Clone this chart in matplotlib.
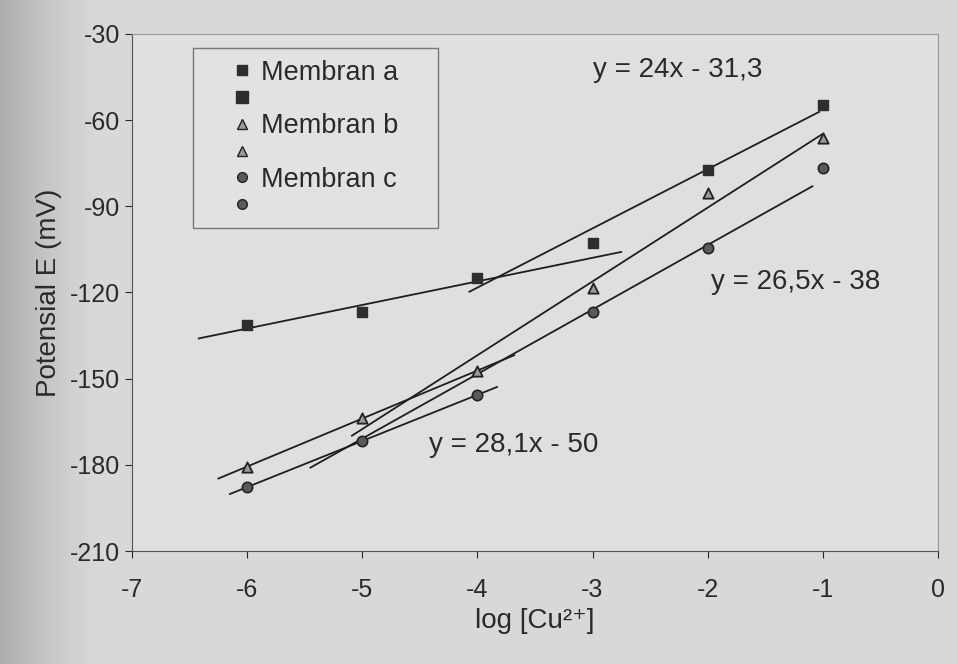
import numpy as np
import matplotlib
matplotlib.use("Agg")
import matplotlib.pyplot as plt
from matplotlib.lines import Line2D
from matplotlib.patches import Rectangle

plt.rcParams['font.family'] = ['Liberation Sans', 'DejaVu Sans']
plt.rcParams['axes.unicode_minus'] = False

# data
log_cu = [-6, -5, -4, -3, -2, -1]
membran_a = [-131.3, -126.8, -114.9, -102.7, -77.3, -54.7]
membran_b = [-180.7, -163.6, -147.3, -118.4, -85.3, -66.2]
membran_c = [-187.7, -171.7, -155.6, -126.8, -104.5, -76.6]

# trendlines: (series, indices used for fit, x start, x end)
trend_a_low = (membran_a, [0, 1, 2], -6.42, -2.75)
trend_a_high = (membran_a, [2, 3, 4, 5], -4.07, -1.03)
trend_b_low = (membran_b, [0, 1, 2], -6.25, -3.68)
trend_b_high = (membran_b, [1, 2, 3, 4, 5], -5.09, -1.0)
trend_c_low = (membran_c, [0, 1, 2], -6.15, -3.83)
trend_c_high = (membran_c, [0, 1, 2, 3, 4, 5], -5.45, -1.09)

equations = ["y = 24x - 31,3", "y = 26,5x - 38", "y = 28,1x - 50"]
eq_pos = [(-3.0, -42.5), (-1.97, -116.5), (-4.42, -173.0)]

fig = plt.figure(figsize=(9.57, 6.64), dpi=100, facecolor='#d8d8d8')
ax = fig.add_axes([0.138, 0.170, 0.842, 0.779])
ax.set_facecolor('#dfdfdf')

# scanner shadow on the left edge (dark fading to transparent)
shade = np.zeros((1, 200, 4))
shade[0, :, 3] = np.linspace(0.35, 0, 200) ** 1.5
bg = fig.add_axes([0, 0, 0.11, 1], zorder=-5)
bg.imshow(shade, aspect='auto', extent=[0, 1, 0, 1])
bg.axis('off')
bg.patch.set_alpha(0)

x = np.array(log_cu, dtype=float)
for ys, idx, x0, x1 in [trend_a_low, trend_a_high, trend_b_low,
                        trend_b_high, trend_c_low, trend_c_high]:
    ys = np.array(ys)
    k, b = np.polyfit(x[idx], ys[idx], 1)
    xx = np.array([x0, x1])
    ax.plot(xx, k * xx + b, color='#1e1e1e', lw=1.3, zorder=2)

ax.scatter(log_cu, membran_a, marker='s', s=50, color='#2e2e2e', zorder=3)
ax.scatter(log_cu, membran_b, marker='^', s=55, facecolor='#9a9a9a',
           edgecolor='#222222', linewidth=1.3, zorder=3)
ax.scatter(log_cu, membran_c, marker='o', s=55, facecolor='#5a5a5a',
           edgecolor='#222222', linewidth=1.2, zorder=3)

for txt, (tx, ty) in zip(equations, eq_pos):
    ax.text(tx, ty, txt, fontsize=20, color='#2a2a2a', va='center', ha='left')

ax.set_xlim(-7, 0)
ax.set_ylim(-210, -30)
ax.set_xticks(np.arange(-7, 1, 1))
ax.set_yticks(np.arange(-210, -29, 30))
ax.tick_params(axis='both', labelsize=18, colors='#2a2a2a', length=5, direction='out')
ax.tick_params(axis='x', pad=14)
for side in ['top', 'right']:
    ax.spines[side].set_color('#9a9a9a')
for side in ['left', 'bottom']:
    ax.spines[side].set_color('#555555')

ax.set_xlabel("log [Cu²⁺]", fontsize=20, color='#2a2a2a', labelpad=5)
ax.set_ylabel("Potensial E (mV)", fontsize=20, color='#2a2a2a', labelpad=6)

# legend box drawn as its own frame, entries placed inside it
ax.add_patch(Rectangle((0.0757, 0.625), 0.304, 0.348, transform=ax.transAxes,
                       facecolor='#e2e2e2', edgecolor='#777777', lw=1.0, zorder=4))
handles = [
    Line2D([], [], ls='none', marker='s', ms=7, color='#2e2e2e'),
    Line2D([], [], ls='none', marker='s', ms=9, color='#2e2e2e'),
    Line2D([], [], ls='none', marker='^', ms=7, mfc='#9a9a9a', mec='#222222'),
    Line2D([], [], ls='none', marker='^', ms=7, mfc='#9a9a9a', mec='#222222'),
    Line2D([], [], ls='none', marker='o', ms=7, mfc='#5a5a5a', mec='#222222'),
    Line2D([], [], ls='none', marker='o', ms=7, mfc='#5a5a5a', mec='#222222'),
]
labels = ["Membran a", "", "Membran b", "", "Membran c", ""]
leg = ax.legend(handles, labels, loc='upper left', bbox_to_anchor=(0.123, 0.950),
                fontsize=19.5, frameon=False, handlelength=0.8,
                handletextpad=0.3, labelspacing=0.03, borderpad=0,
                borderaxespad=0)
leg.set_zorder(5)
for t in leg.get_texts():
    t.set_color('#2a2a2a')

fig.savefig("out.png", dpi=100, facecolor=fig.get_facecolor())
